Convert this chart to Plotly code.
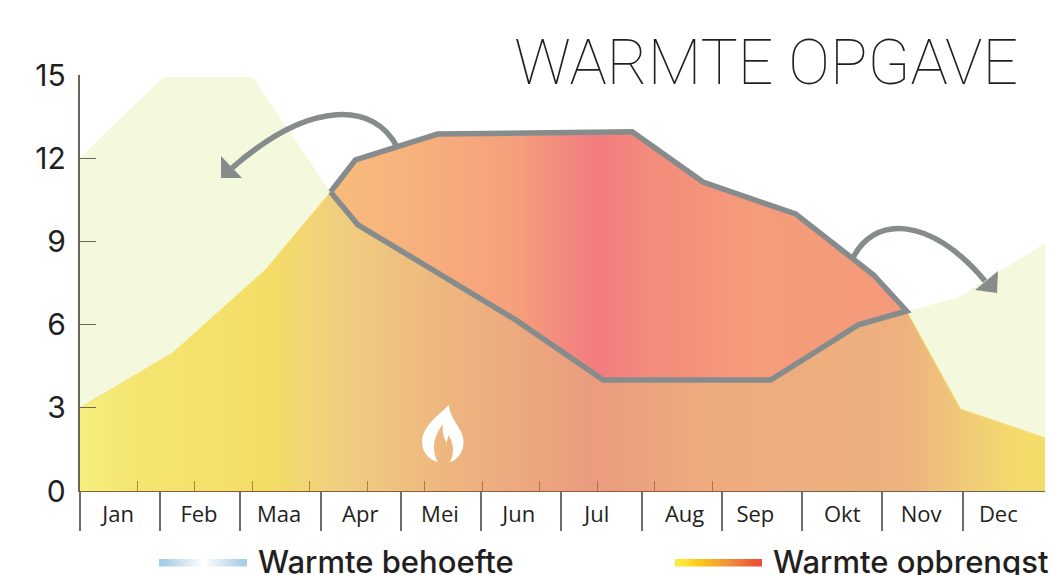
import plotly.graph_objects as go

W, H = 1051, 575
LEFT, RIGHT, TOP, BOTTOM = 79.5, 1045, 75, 491

# ---- data (x in months from the start of January, y in chart units)
months = ["Jan", "Feb", "Maa", "Apr", "Mei", "Jun", "Jul", "Aug", "Sep", "Okt", "Nov", "Dec"]
month_label_pos = [0.48, 1.485, 2.48, 3.49, 4.48, 5.46, 6.43, 7.52, 8.4, 9.48, 10.46, 11.42]
month_dividers = [0, 0.995, 2.0, 3.0, 4.0, 4.99, 5.99, 6.99, 7.99, 8.98, 9.98, 10.98]
y_ticks = [0, 3, 6, 9, 12, 15]

demand_x = [0, 1.04, 2.15, 3.12, 3.46, 5.42, 6.51, 8.59, 9.68, 10.28, 10.91, 12.0]
demand_y = [12.0, 14.93, 14.93, 10.78, 9.6, 6.17, 4.0, 4.0, 5.99, 6.49, 6.96, 8.94]
yield_x = [0, 1.16, 2.31, 3.12, 3.43, 4.45, 6.87, 7.75, 8.9, 9.87, 10.28, 10.95, 12.0]
yield_y = [2.99, 4.98, 7.97, 10.78, 11.94, 12.87, 12.95, 11.14, 9.99, 7.79, 6.49, 2.96, 1.91]

inner_ticks = list(range(13))

yield_gradient = [[0, "#f5f07f"], [0.05, "#f4e672"], [0.2, "#f4dc66"], [0.265, "#f0cf7f"],
                  [0.38, "#eeb67f"], [0.53, "#eb9c7f"], [0.56, "#ec9f7f"], [0.65, "#eeab7e"],
                  [0.85, "#eeb07e"], [0.91, "#f0c87a"], [0.97, "#f4da6b"], [1, "#f4dc69"]]
surplus_gradient = [[0, "#f8bc7c"], [0.15, "#f7b07c"], [0.32, "#f5a07c"], [0.46, "#f27b80"], [0.55, "#f38a7b"],
                    [0.74, "#f59c7b"], [1, "#f49a7a"]]
demand_bar = [[0, "#a9cde6"], [0.5, "#ffffff"], [1, "#a9cde6"]]
yield_bar = [[0, "#fde93c"], [0.25, "#fdc814"], [0.65, "#f08c3a"], [1, "#ee4f35"]]
bar_steps = [[0, 1, 2, 3, 4, 5, 6, 7, 8]]

legend_names = ["Warmte behoefte", "Warmte opbrengst"]
legend_text_x = [258, 773]
legend_text_y = [565, 565]
title_text = ["WARMTE OPGAVE"]

GREY = "#868c8b"
PALE = "#f4f8dc"
AXIS = "#6b6459"
TEXT = "#231f20"
FONT = "Open Sans"


def px(x):
    return x / W


def py(y):
    return 1 - y / H


fig = go.Figure()

# pale demand area
fig.add_trace(go.Scatter(x=demand_x, y=demand_y, mode="lines", line=dict(width=0),
                         fill="tozeroy", fillcolor=PALE, hoverinfo="skip"))
# yield area
fig.add_trace(go.Scatter(x=yield_x, y=yield_y, mode="lines", line=dict(width=1, color="#f6e070"),
                         fill="tozeroy",
                         fillgradient=dict(type="horizontal", colorscale=yield_gradient, start=0, stop=12),
                         hoverinfo="skip"))
# surplus region between yield and demand
region_x = yield_x[3:11] + demand_x[3:10][::-1]
region_y = yield_y[3:11] + demand_y[3:10][::-1]
fig.add_trace(go.Scatter(x=region_x, y=region_y, mode="lines", line=dict(width=5.5, color=GREY, simplify=False),
                         fill="toself",
                         fillgradient=dict(type="horizontal", colorscale=surplus_gradient, start=3.12, stop=10.28),
                         hoverinfo="skip"))
# helpers so the extra axes are drawn
fig.add_trace(go.Scatter(x=[0], y=[0], xaxis="x2", yaxis="y", mode="markers", marker=dict(opacity=0), hoverinfo="skip"))
fig.add_trace(go.Scatter(x=[0], y=[0], xaxis="x3", yaxis="y3", mode="markers", marker=dict(opacity=0), hoverinfo="skip"))
# legend gradient bars
fig.add_trace(go.Heatmap(z=bar_steps, xaxis="x4", yaxis="y4", colorscale=demand_bar, showscale=False,
                         zsmooth="best", hoverinfo="skip"))
fig.add_trace(go.Heatmap(z=bar_steps, xaxis="x5", yaxis="y5", colorscale=yield_bar, showscale=False,
                         zsmooth="best", hoverinfo="skip"))
# page-wide axes that carry the legend names and the title as text
fig.add_trace(go.Scatter(x=legend_text_x, y=legend_text_y, text=legend_names, mode="text", xaxis="x6", yaxis="y6",
                         textposition="middle right", cliponaxis=False, hoverinfo="skip",
                         textfont=dict(family="Inter", size=31, color=TEXT, weight=500)))
fig.add_trace(go.Scatter(x=[1018], y=[68], text=title_text, mode="text", xaxis="x6", yaxis="y6",
                         textposition="middle left", cliponaxis=False, hoverinfo="skip",
                         textfont=dict(family="Roboto", size=62.5, color=TEXT, weight=100)))

xdom = [px(LEFT), px(RIGHT)]
ydom = [py(BOTTOM), py(TOP)]
hidden = dict(visible=False, fixedrange=True, automargin=False)


def path(points):
    out = []
    for item in points:
        if isinstance(item, str):
            out.append(item)
        else:
            out.append(f"{px(item[0]):.5f},{py(item[1]):.5f}")
    return " ".join(out)


shapes = [
    dict(type="path", xref="paper", yref="paper", line=dict(color=GREY, width=5.5), layer="above",
         path=path(["M", (397, 147), "C", (375, 103), (312, 98), (232, 168)])),
    dict(type="path", xref="paper", yref="paper", line=dict(width=0), fillcolor=GREY, layer="above",
         path=path(["M", (221, 156), "L", (221, 178), "L", (242, 178), "Z"])),
    dict(type="path", xref="paper", yref="paper", line=dict(color=GREY, width=5.5), layer="above",
         path=path(["M", (852, 260), "C", (872, 215), (930, 215), (985, 281)])),
    dict(type="path", xref="paper", yref="paper", line=dict(width=0), fillcolor=GREY, layer="above",
         path=path(["M", (998, 271), "L", (997, 293), "L", (975, 290), "Z"])),
    dict(type="path", xref="paper", yref="paper", line=dict(width=0), fillcolor="#ffffff", layer="above",
         path=path(["M", (449, 405), "C", (440, 414), (422, 426), (422, 442), "C", (422, 452), (429, 460), (438, 462),
                    "C", (432, 452), (432, 438), (443, 424), "C", (442, 432), (444, 438), (446.5, 443),
                    "L", (448.5, 435), "C", (452, 441), (456, 450), (450, 462),
                    "C", (458, 460), (464, 451), (463.5, 441), "C", (463, 428), (450, 420), (449, 405), "Z"])),
]

fig.update_layout(
    template="none",
    width=W, height=H, autosize=False, showlegend=False,
    margin=dict(l=0, r=0, t=0, b=0), paper_bgcolor="white", plot_bgcolor="rgba(0,0,0,0)",
    shapes=shapes,
    xaxis=dict(domain=xdom, range=[0, 12], anchor="y", tickmode="array", tickvals=month_dividers, automargin=False,
               ticktext=[""] * 12, ticks="outside", ticklen=39, tickwidth=1.5, tickcolor="#6e6e6e",
               showgrid=False, zeroline=False, showline=True, linecolor=AXIS, linewidth=1, fixedrange=True),
    xaxis2=dict(range=[0, 12], overlaying="x", anchor="y", side="bottom", tickmode="array", automargin=False,
                tickvals=month_label_pos, ticktext=months, ticks="outside", ticklen=4,
                tickcolor="rgba(0,0,0,0)", showgrid=False, zeroline=False, showline=False, fixedrange=True,
                tickfont=dict(family=FONT, size=22, color=TEXT)),
    xaxis3=dict(domain=[px(LEFT), px(770)], range=[0, 12], anchor="y3", tickmode="array", tickvals=inner_ticks,
                ticktext=[""] * 13, ticks="inside", ticklen=10, tickwidth=1, tickcolor="rgba(150,90,50,0.7)",
                showgrid=False, zeroline=False, showline=True, linecolor="rgba(150,90,50,0.7)", linewidth=1,
                fixedrange=True, automargin=False),
    yaxis=dict(domain=ydom, range=[0, 15], anchor="x", tickmode="array", tickvals=y_ticks, ticks="inside",
               ticklen=17, tickwidth=1, tickcolor=AXIS, showgrid=False, zeroline=False, showline=True,
               linecolor=AXIS, linewidth=1.5, fixedrange=True, ticklabelstandoff=6, automargin=False,
               tickfont=dict(family="Inter", size=30, color=TEXT)),
    yaxis3=dict(domain=ydom, range=[0, 15], anchor="x3", **hidden),
    xaxis4=dict(domain=[px(159), px(247)], anchor="y4", **hidden),
    yaxis4=dict(domain=[py(566.5), py(559)], anchor="x4", **hidden),
    xaxis5=dict(domain=[px(675), px(762)], anchor="y5", **hidden),
    yaxis5=dict(domain=[py(566.5), py(559)], anchor="x5", **hidden),
    xaxis6=dict(domain=[0, 1], range=[0, W], anchor="y6", **hidden),
    yaxis6=dict(domain=[0, 1], range=[H, 0], anchor="x6", **hidden),
)

fig.write_html("out.html", config=dict(displayModeBar=False),
               post_script="document.body.style.margin='0';document.body.style.overflow='hidden';")
